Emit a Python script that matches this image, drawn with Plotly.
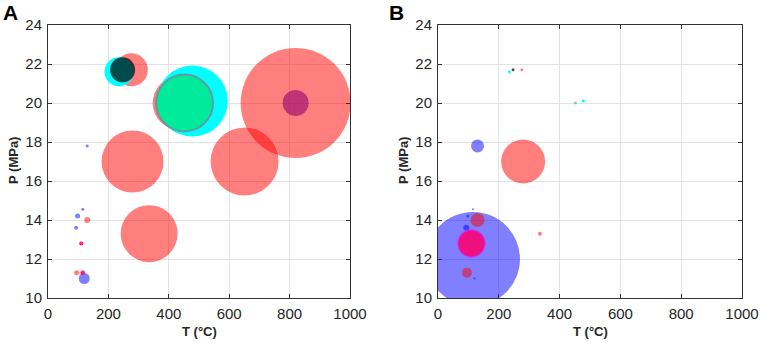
import plotly.graph_objects as go

# ---- data (T in °C, P in MPa, bubble diameters for panel A and panel B) ----
red_T = [820, 276, 436, 280, 651, 335, 130, 110, 95, 115]
red_P = [20.0, 21.7, 20.0, 17.0, 17.0, 13.3, 14.0, 12.8, 11.3, 11.3]
red_A = [110, 33, 54, 62, 68, 57, 6, 4, 5, 5]
red_B = [0, 3, 0, 44, 0, 4, 14, 26, 10, 0]

blue_T = [115, 98, 130, 93, 120, 115]
blue_P = [14.55, 14.2, 17.8, 13.6, 11.0, 12.0]
blue_A = [3, 5, 3, 4, 11, 0]
blue_B = [2, 3, 13, 6, 2, 94]

magenta_T = [110, 115]
magenta_P = [12.8, 11.3]
magenta_A = [4, 4]
magenta_B = [28, 0]

purple_T = [820]
purple_P = [20.0]
purple_A = [26]
purple_B = [0]

cyan_T = [235, 478]
cyan_P = [21.6, 20.1]
cyan_A = [29, 71]
cyan_B = [3, 3]

green_T = [452]
green_P = [20.0]
green_A = [57]
green_B = [3]

black_T = [247]
black_P = [21.7]
black_A = [25]
black_B = [3]

x_ticks = [0, 200, 400, 600, 800, 1000]
y_ticks = [10, 12, 14, 16, 18, 20, 22, 24]

series = [
    (blue_T, blue_P, blue_A, blue_B, "rgba(0,0,255,0.5)", None),
    (magenta_T, magenta_P, magenta_A, magenta_B, "rgba(255,0,255,0.75)", None),
    (red_T, red_P, red_A, red_B, "rgba(255,0,0,0.5)", None),
    (cyan_T, cyan_P, cyan_A, cyan_B, "rgba(0,255,255,1)", None),
    (green_T, green_P, green_A, green_B, "rgba(0,220,90,0.6)", "rgba(110,140,160,0.85)"),
    (purple_T, purple_P, purple_A, purple_B, "rgba(150,0,110,0.6)", None),
    (black_T, black_P, black_A, black_B, "rgba(0,0,0,0.7)", None),
]

fig = go.Figure()
for T, P, SA, SB, col, edge in series:
    for sizes, xa, ya in ((SA, "x", "y"), (SB, "x2", "y2")):
        idx = [i for i, s in enumerate(sizes) if s > 0]
        if not idx:
            continue
        fig.add_trace(go.Scatter(
            x=[T[i] for i in idx], y=[P[i] for i in idx],
            xaxis=xa, yaxis=ya, mode="markers", cliponaxis=True,
            marker=dict(size=[sizes[i] for i in idx], color=col, opacity=1,
                        line=dict(width=2 if (edge and xa == "x") else 0,
                                  color=edge or col)),
            showlegend=False, hoverinfo="skip"))

FONT = "Liberation Sans, Arial"
axis_common = dict(
    showline=True, mirror="ticks", linecolor="#333333", linewidth=1,
    ticks="inside", ticklen=4, tickcolor="#333333",
    showgrid=True, gridcolor="#e3e3e3", gridwidth=1, zeroline=False,
    automargin=False,
    tickfont=dict(family=FONT, size=15, color="#262626"),
)
xcommon = dict(axis_common, range=[0, 1000], tickvals=x_ticks, ticklabelstandoff=2)
ycommon = dict(axis_common, range=[10, 24], tickvals=y_ticks, ticklabelstandoff=2)

ydom = [1 - 298 / 343, 1 - 25 / 343]
W, H = 761, 343
title_font = dict(family=FONT, size=13, color="#262626")
fig.update_layout(
    width=W, height=H,
    margin=dict(l=0, r=0, t=0, b=0, autoexpand=False),
    paper_bgcolor="white", plot_bgcolor="white",
    xaxis=dict(xcommon, domain=[48 / W, 350 / W], anchor="y"),
    yaxis=dict(ycommon, domain=ydom, anchor="x"),
    xaxis2=dict(xcommon, domain=[438 / W, 742 / W], anchor="y2"),
    yaxis2=dict(ycommon, domain=ydom, anchor="x2"),
    annotations=[
        dict(text="<b>A</b>", x=1 / W, y=1 + 1 / H, xref="paper", yref="paper",
             xanchor="left", yanchor="top", showarrow=False,
             font=dict(family=FONT, size=21, color="black")),
        dict(text="<b>B</b>", x=387 / W, y=1 + 1 / H, xref="paper", yref="paper",
             xanchor="left", yanchor="top", showarrow=False,
             font=dict(family=FONT, size=21, color="black")),
        dict(text="<b>T (°C)</b>", x=199 / W, y=1 - 331 / H, xref="paper", yref="paper",
             xanchor="center", yanchor="middle", showarrow=False, font=title_font),
        dict(text="<b>T (°C)</b>", x=590 / W, y=1 - 331 / H, xref="paper", yref="paper",
             xanchor="center", yanchor="middle", showarrow=False, font=title_font),
        dict(text="<b>P (MPa)</b>", x=13 / W, y=1 - 161 / H, xref="paper", yref="paper",
             xanchor="center", yanchor="middle", showarrow=False, textangle=-90,
             font=title_font),
        dict(text="<b>P (MPa)</b>", x=403 / W, y=1 - 161 / H, xref="paper", yref="paper",
             xanchor="center", yanchor="middle", showarrow=False, textangle=-90,
             font=title_font),
    ],
)

fig.write_html("out.html", config={"displayModeBar": False},
               post_script="document.body.style.margin='0px';document.body.style.overflow='hidden';")
